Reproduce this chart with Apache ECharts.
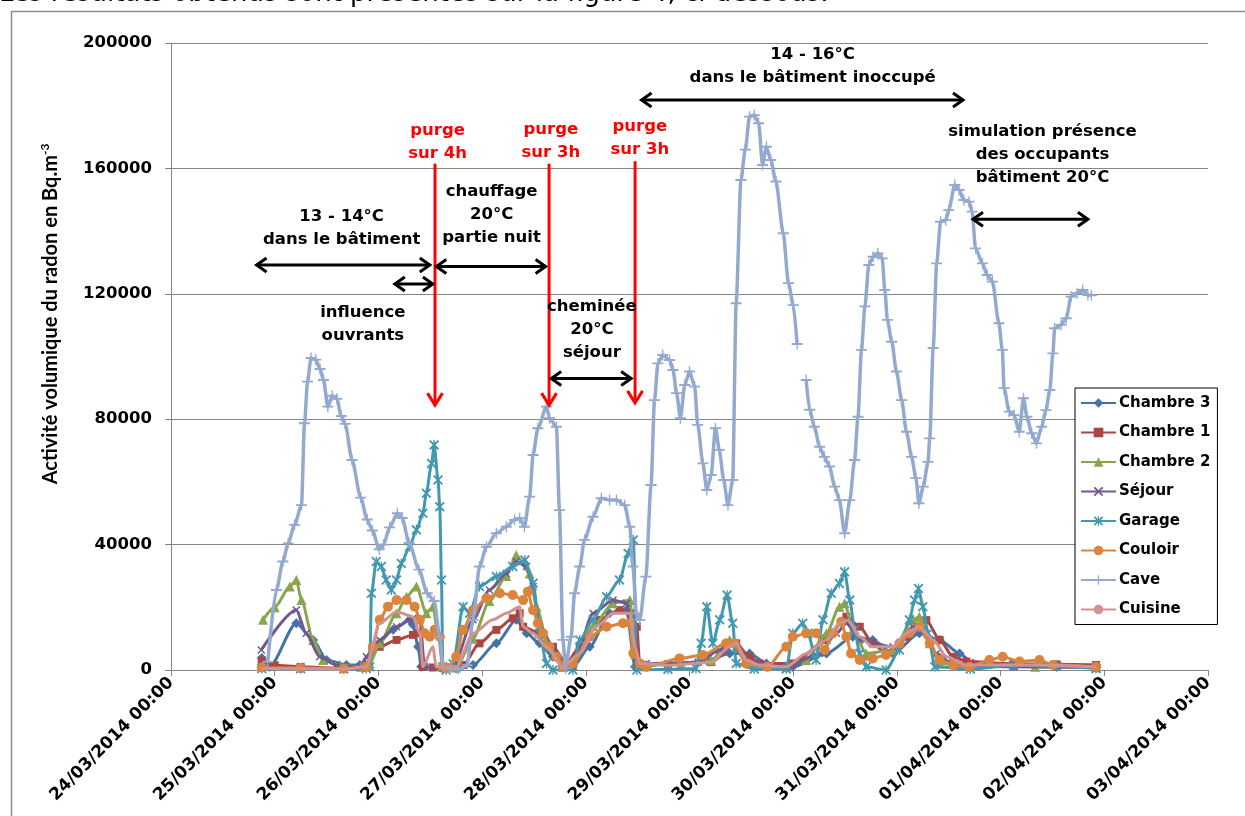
<!DOCTYPE html>
<html><head><meta charset="utf-8">
<script src="https://cdn.jsdelivr.net/npm/echarts@6/dist/echarts.min.js"></script>
<style>html,body{margin:0;padding:0;background:#fff;overflow:hidden}#c{width:1245px;height:816px}</style>
</head><body><div id="c"></div>
<script>
// x values are hours since 24/03/2014 00:00
const tickLabels = ['24/03/2014 00:00','25/03/2014 00:00','26/03/2014 00:00','27/03/2014 00:00','28/03/2014 00:00','29/03/2014 00:00','30/03/2014 00:00','31/03/2014 00:00','01/04/2014 00:00','02/04/2014 00:00','03/04/2014 00:00'];
const yTicks = [0, 40000, 80000, 120000, 160000, 200000];
const seriesNames = ['Chambre 3','Chambre 1','Chambre 2','Séjour','Garage','Couloir','Cave','Cuisine'];

const chambre3 = [[21.0,3800],[22.8,1000],[29.0,14900],[32.9,9600],[36.0,3200],[40.6,1600],[43.7,1600],[46.7,6400],[51.4,12800],[55.2,16000],[56.0,14400],[57.2,7400],[57.9,1000],[62.9,500],[66,500],[69.9,1600],[75.3,8500],[79.9,16000],[82.3,11700],[85.3,8500],[88.4,4200],[90.7,1000],[93.0,1000],[96.9,7400],[101.5,18100],[105.4,19100],[107.4,1000],[110,1500],[117.7,2000],[124,3000],[129.3,5300],[133.9,5300],[137.8,2100],[143.9,1000],[151.7,5300],[157.8,10600],[162.4,9600],[167.1,5300],[173.2,11700],[177.9,9600],[182.5,5300],[185.6,2100],[195,1200],[205,1000],[214.1,1000]];
const chambre1 = [[21.0,3000],[24,1500],[30,1000],[40,500],[45.2,1600],[48.3,7400],[52.2,9600],[56,11200],[57.6,11700],[58.3,1000],[60.6,800],[63.7,500],[67.6,1600],[71.4,8500],[75.3,12800],[79.1,16500],[80.7,18100],[81.5,13800],[85.3,11700],[88.4,7400],[91.5,2100],[94.6,7400],[99.2,16000],[103.8,19100],[107.0,18100],[107.8,13800],[108.5,1500],[115,1800],[125,2500],[130.8,8500],[133.9,4200],[136.2,2100],[143.9,2100],[151.7,9600],[156.3,17000],[159.4,13800],[162.4,8500],[165.5,5300],[170.2,10600],[174.8,15900],[177.9,9600],[181.0,4200],[184.1,2700],[195,2000],[205,1800],[214.1,1600]];
const chambre2 = [[21.3,16000],[24,20000],[27.5,26600],[29.0,28700],[30.2,22300],[32.9,9600],[35.2,3200],[39.0,1600],[44,1000],[46,2000],[48.3,8500],[52.2,18100],[54.5,23400],[56.8,26600],[59.1,18100],[60.6,20200],[61.8,11700],[62.9,1000],[66,800],[69.9,10000],[73.7,22000],[77.6,30000],[79.9,36700],[83.0,30800],[84.6,20200],[86.9,10000],[89.2,5000],[90.7,1000],[93.0,1500],[97.7,14000],[102.3,21300],[106.2,22300],[107.4,5000],[108.1,1500],[118,2000],[125,3000],[129.3,9600],[130.8,7400],[133.9,2100],[142.4,1000],[147.0,3200],[151.7,11700],[154.7,20200],[155.9,21300],[157.8,12800],[160.9,5300],[167.1,6400],[171.7,16000],[173.2,17000],[175.6,8500],[177.9,2100],[185,1200],[200,1000],[214.1,900]];
const sejour = [[20.9,6400],[29.0,19100],[31.3,11700],[34.4,4200],[38.3,1600],[44,800],[45.2,4200],[48.3,9600],[52.2,13800],[56.0,16500],[57.6,16000],[58.7,1000],[63,500],[65.3,1000],[69.9,16000],[73.7,25500],[77.6,30800],[79.9,34600],[82.3,33000],[83.8,26600],[85.3,13800],[88.4,7400],[90.7,1000],[93.0,1000],[97.7,18100],[102.3,22300],[105.4,21300],[107.0,11700],[107.8,1000],[110,2000],[122,2500],[127.0,6400],[130.0,8500],[133.1,2700],[142.4,1000],[150.1,5300],[154.0,11700],[156.3,14900],[159.4,9600],[167.1,7400],[171.7,13800],[174.0,12800],[177.2,5300],[181,1600],[195,1000],[214.1,900]];
const garage = [[21,500],[30,400],[40,300],[45.2,500],[46.0,1000],[46.4,24500],[47.5,34600],[48.7,33000],[49.8,28700],[51.0,25500],[52.2,28700],[53.3,34000],[55.2,39300],[56.8,44700],[58.3,50000],[59.1,56400],[60.3,65900],[60.9,71800],[61.8,60600],[62.2,52100],[62.6,28700],[62.9,1000],[63.7,0],[65.3,2000],[67.6,20200],[69.1,18100],[71.4,26600],[75.3,29800],[79.1,33000],[81.9,35100],[83.8,27700],[85.3,11700],[86.9,2100],[88.4,0],[93.0,0],[94.6,9600],[97.7,16000],[100.8,23400],[103.8,28700],[105.8,37200],[107.0,41500],[107.8,0],[115,200],[121.5,500],[122.7,8500],[124.0,20200],[125.4,8500],[127.0,16000],[128.7,23900],[130.0,14900],[130.8,2100],[135,300],[142.4,300],[143.9,11700],[146.2,14900],[147.4,11700],[149.3,3200],[150.9,16000],[152.8,24500],[154.7,27600],[155.9,31300],[157.1,22300],[158.2,12800],[159.4,5300],[160.9,1000],[165.5,0],[168.6,6400],[170.9,16000],[172.1,22300],[173.0,26000],[174.0,20200],[175.2,11700],[176.8,1000],[185,300],[195,1500],[205,1200],[214.1,500]];
const couloir = [[21,800],[30,600],[40,400],[45.2,1000],[46.7,7400],[48.3,16000],[50.2,20200],[52.2,22300],[54.5,22300],[56.4,20200],[57.6,16000],[58.7,11700],[59.9,10600],[61.0,12800],[62.2,10600],[62.9,1000],[64,600],[66.0,4200],[67.6,12800],[69.9,19100],[73.0,22900],[76.1,24500],[79.1,23900],[81.5,22300],[82.6,25000],[83.8,19100],[84.9,14900],[86.1,11700],[87.6,7400],[89.2,4200],[90.7,1000],[93.0,2100],[96.9,10600],[100.8,13800],[104.6,14900],[106.2,14900],[107.0,5300],[108.5,2100],[110,1000],[117.7,3700],[123.1,4800],[128.5,8500],[130.4,8500],[133.1,2100],[138,1000],[142.4,7400],[143.9,10600],[147.0,11700],[149.3,11700],[151.3,6400],[153.2,11700],[155.1,15400],[156.3,10600],[157.4,5300],[159.4,3200],[162.4,3700],[165.5,4800],[168.6,8500],[170.9,11700],[173.2,13800],[175.6,8500],[177.9,3200],[181.0,1600],[184.8,1000],[189.4,3200],[192.5,4200],[196.4,2700],[201.0,3200],[204.1,1600],[214.1,1000]];
const cave = [[22.4,2600],[24.4,25500],[25.9,34600],[27.1,40400],[28.6,46300],[30.2,52600],[30.9,78700],[31.6,92000],[32.4,99500],[33.5,99000],[34.5,96000],[35.3,92500],[36.3,84000],[37.3,87500],[38.4,86500],[39.4,81000],[40.3,78500],[41.9,67000],[43.9,55000],[45.4,48000],[46.6,44500],[48.2,38500],[49.2,40000],[50.6,45500],[52.4,50000],[53.5,48500],[55.1,40500],[57.4,32000],[59.3,24500],[60.9,22000],[62.2,10500],[63.0,1000],[64.5,500],[66.5,300],[68.5,1500],[69.9,16000],[71.4,33000],[73.0,39300],[75.3,43600],[77.6,45700],[79.5,47900],[80.7,48400],[81.8,45700],[83.0,55300],[83.8,68600],[84.9,77100],[86.9,84000],[87.6,80300],[89.2,77600],[89.9,51000],[90.7,9600],[91.3,600],[92.6,10600],[93.4,24500],[94.6,33000],[95.7,41500],[97.7,48900],[99.6,54800],[101.5,54200],[103.1,54200],[105.0,52600],[106.2,45700],[106.9,33000],[107.7,18100],[108.5,16000],[109.9,29800],[111.1,59000],[111.9,86100],[112.7,97800],[113.8,100500],[115.4,98900],[116.2,95700],[117.0,88300],[117.9,80300],[118.9,90900],[120.0,95200],[121.2,90400],[121.9,78200],[123.1,65900],[124.0,57400],[125.0,62200],[126.0,77100],[126.9,70200],[127.9,60600],[128.9,52600],[130.0,60600],[130.8,117000],[131.9,156300],[132.9,166000],[133.9,176500],[135.0,177000],[136.0,174400],[136.9,161100],[137.8,166900],[138.8,162700],[140.0,155800],[141.7,139300],[142.9,123400],[144.0,116400],[144.9,104000],[146.0,'-'],[147.0,92500],[147.8,83000],[148.9,77600],[150.1,71200],[151.2,68000],[152.4,64900],[153.6,58500],[154.7,54200],[155.9,43600],[157.1,54200],[158.2,67000],[159.0,80800],[159.8,102100],[160.6,116000],[161.5,129200],[162.5,131800],[163.6,132900],[164.6,131300],[165.2,121200],[165.8,111700],[166.8,104700],[167.9,95200],[169.1,86100],[170.2,76000],[171.4,68000],[172.4,61200],[173.1,53200],[174.1,58500],[175.2,66400],[175.6,73900],[176.4,102700],[177.2,129700],[178.1,143000],[179.3,143500],[180.0,146700],[181.4,154700],[182.4,153100],[183.5,149900],[184.7,149400],[185.4,146200],[186.2,134500],[187.8,129700],[188.9,126000],[190.1,123900],[191.6,110600],[192.4,102100],[192.8,89900],[194.0,82400],[195.1,81300],[196.3,76000],[197.3,86700],[198.1,80800],[199.2,75500],[200.3,72300],[201.5,77600],[202.5,82900],[203.4,89300],[204.1,101000],[204.5,109000],[206.0,110100],[207.2,112200],[208.3,119100],[209.7,120200],[211.0,121200],[212.2,119600],[213.0,119500]];
const cuisine = [[21,500],[40,300],[45.2,1000],[48.3,14900],[52.2,18600],[56.0,17000],[57.6,11700],[58.3,1000],[60.6,7400],[61.4,1000],[66.0,1000],[69.9,11700],[74.5,16000],[77.6,18100],[80.7,20200],[81.5,13800],[83.8,11700],[86.9,7400],[90.7,1000],[94.6,5300],[98.4,13800],[102.3,18100],[106.2,18100],[107.4,7400],[108.5,2100],[115,1500],[125,2500],[129.3,7400],[130.8,8500],[133.1,3200],[136.2,1600],[142.4,1000],[147.0,5300],[151.7,9600],[154.7,14900],[156.7,15900],[159.4,10600],[162.4,7400],[167.1,7400],[170.2,11700],[173.2,13800],[176.4,9600],[179.5,4200],[184.1,1600],[200,1600],[214.1,1000]];

// annotations in data units: [hour, valueTop, valueTip]
const redArrows = [[61.1,161500,84500],[87.5,161500,84500],[107.4,162300,85200]];
// [hourStart, hourEnd, value]
const hArrows = [[19.8,59.9,129200],[51.8,60.6,123100],[61.4,86.7,128700],[88.0,106.5,93000],[108.9,183.3,181800],[185.6,212.2,143800]];
const notes = [
  {t:'14 - 16°C\ndans le bâtiment inoccupé', h:148.5, v:192700, red:false},
  {t:'purge\nsur 4h', h:61.7, v:168400, red:true},
  {t:'purge\nsur 3h', h:87.9, v:168800, red:true},
  {t:'purge\nsur 3h', h:108.5, v:169500, red:true},
  {t:'13 - 14°C\ndans le bâtiment', h:39.5, v:140800, red:false},
  {t:'chauffage\n20°C\npartie nuit', h:74.2, v:145100, red:false},
  {t:'influence\nouvrants', h:44.4, v:110400, red:false},
  {t:'cheminée\n20°C\nséjour', h:97.4, v:108500, red:false},
  {t:'simulation présence\ndes occupants\nbâtiment 20°C', h:201.7, v:164300, red:false}
];

const FONT = 'DejaVu Sans';
const X_PATH = 'path://M0,1.3L1.3,0L5,3.7L8.7,0L10,1.3L6.3,5L10,8.7L8.7,10L5,6.3L1.3,10L0,8.7L3.7,5Z';
const STAR_PATH = X_PATH + 'M4.35,0L5.65,0L5.65,10L4.35,10Z';
const PLUS_PATH = 'path://M0,4.4L10,4.4L10,5.6L0,5.6ZM4.4,1.5L5.6,1.5L5.6,8.5L4.4,8.5Z';

const defs = [
  {d:chambre3, c:'#4572A7', s:'diamond', z:10},
  {d:chambre1, c:'#AA4643', s:'rect', z:8},
  {d:chambre2, c:'#89A54E', s:'triangle', z:10},
  {d:sejour, c:'#71588F', s:X_PATH, z:8},
  {d:garage, c:'#4198AF', s:STAR_PATH, z:10},
  {d:couloir, c:'#DB843D', s:'circle', z:10},
  {d:cave, c:'#93A9CF', s:PLUS_PATH, z:11},
  {d:cuisine, c:'#D19392', s:'none', z:0}
];

const series = defs.map((o,i)=>({
  name: seriesNames[i], type:'line', data:o.d, smooth:0.25, smoothMonotone:'x',
  symbol:o.s, symbolSize:o.z, showSymbol: o.s!=='none',
  lineStyle:{color:o.c, width: i===6?3.5:3},
  itemStyle:{color:o.c, borderWidth:0},
  emphasis:{disabled:true}, z: 2+i
}));

const chart = echarts.init(document.getElementById('c'), null, {renderer:'canvas'});
chart.setOption({
  animation:false,
  backgroundColor:'#fff',
  grid:{left:171, top:43, width:1037, height:627},
  xAxis:{type:'value', min:0, max:240, interval:24,
    axisLine:{lineStyle:{color:'#868686', width:1}},
    axisTick:{show:true, length:6, lineStyle:{color:'#868686'}},
    splitLine:{show:false},
    axisLabel:{rotate:45, margin:10, color:'#000', fontFamily:FONT, fontWeight:'bold', fontSize:17,
      showMinLabel:true, showMaxLabel:true,
      formatter:v=>tickLabels[Math.round(v/24)]}
  },
  yAxis:{type:'value', min:0, max:200000, interval:40000,
    axisLine:{show:true, lineStyle:{color:'#868686', width:1}},
    axisTick:{show:true, length:6, lineStyle:{color:'#868686'}},
    splitLine:{show:true, lineStyle:{color:'#868686', width:1}},
    axisLabel:{margin:19, color:'#000', fontFamily:FONT, fontWeight:'bold', fontSize:16.5,
      formatter:v=>String(v)}
  },
  legend:{orient:'vertical', left:1075, top:388, data:seriesNames,
    backgroundColor:'#fff', borderColor:'#000', borderWidth:1, padding:[6,7,6,5],
    itemWidth:35, itemHeight:12, itemGap:11.5, selectedMode:false,
    textStyle:{color:'#000', fontFamily:FONT, fontWeight:'bold', fontSize:15, lineHeight:18, padding:[0,0,0,-2]}
  },
  series: series
});

function px(h,v){ return chart.convertToPixel({gridIndex:0},[h,v]); }
const g = [];
// frame and cropped heading
g.push({type:'rect', shape:{x:11.5, y:11.5, width:1400, height:1000}, style:{fill:null, stroke:'#8c8c8c', lineWidth:1.5}, z:0, silent:true});
g.push({type:'text', x:-1, y:7, style:{text:'Les résultats obtenus sont présentés sur la figure 4, ci-dessous.', font:'26px "DejaVu Sans"', fill:'#000', verticalAlign:'bottom'}, z:50});
// y-axis title
g.push({type:'text', x:51, y:314, rotation:Math.PI/2, z:50,
  style:{text:'Activité volumique du radon en Bq.m{sup|-3}', align:'center', verticalAlign:'middle',
    font:'bold 20px Lato', fill:'#000',
    rich:{sup:{font:'bold 12px Lato', fill:'#000', verticalAlign:'top', lineHeight:24}}}});
redArrows.forEach(a=>{
  const top = px(a[0],a[1]), tip = px(a[0],a[2]);
  const x = top[0];
  g.push({type:'polyline', shape:{points:[[x,top[1]],[x,tip[1]-1]]}, style:{stroke:'#FF0000', lineWidth:3, fill:null}, z:60});
  g.push({type:'polyline', shape:{points:[[x-7.5,tip[1]-12],[x,tip[1]],[x+7.5,tip[1]-12]]}, style:{stroke:'#FF0000', lineWidth:3, fill:null, lineJoin:'miter'}, z:60});
});
hArrows.forEach(a=>{
  const p1 = px(a[0],a[2]), p2 = px(a[1],a[2]);
  const y = p1[1];
  g.push({type:'polyline', shape:{points:[[p1[0]+1,y],[p2[0]-1,y]]}, style:{stroke:'#000', lineWidth:3, fill:null}, z:60});
  g.push({type:'polyline', shape:{points:[[p1[0]+10,y-7],[p1[0],y],[p1[0]+10,y+7]]}, style:{stroke:'#000', lineWidth:3, fill:null, lineJoin:'miter'}, z:60});
  g.push({type:'polyline', shape:{points:[[p2[0]-10,y-7],[p2[0],y],[p2[0]-10,y+7]]}, style:{stroke:'#000', lineWidth:3, fill:null, lineJoin:'miter'}, z:60});
});
notes.forEach(n=>{
  const p = px(n.h,n.v);
  g.push({type:'text', x:p[0], y:p[1], z:61,
    style:{text:n.t, align:'center', verticalAlign:'middle', font:'bold 16.5px "DejaVu Sans"', lineHeight:23,
      fill: n.red ? '#FF0000' : '#000'}});
});
chart.setOption({graphic:{elements:g}});
</script>
</body></html>
